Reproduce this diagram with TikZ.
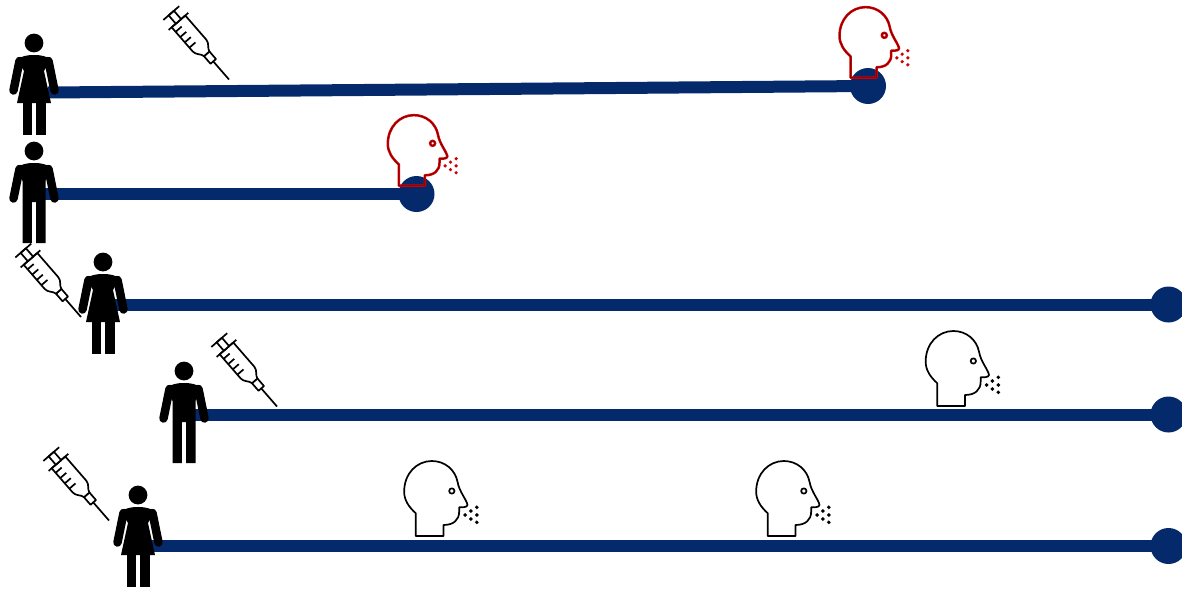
\documentclass[tikz,border=0pt]{standalone}
\definecolor{bluebar}{HTML}{052A6B}
\definecolor{redhead}{HTML}{D00000}
\definecolor{redcore}{HTML}{800000}
\def\hs{0.3333}
\tikzset{
  bar/.style={draw=bluebar,line width=12pt},
  endcap/.style={circle,fill=bluebar,draw=none,inner sep=0pt,minimum size=36pt},
  syr/.style={draw=black,line width=1.7pt,fill=white,line join=round},
  pics/woman/.style={code={
    \fill[black] (0,0) circle (9.4);
    \fill[black] (-17,16) .. controls (-12,13.5) and (-8,12) .. (0,12) .. controls (8,12) and (12,13.5) .. (17,16) -- (10,28) -- (17,60) -- (-17,60) -- (-10,28) -- cycle;
    \draw[black,line width=8.5pt,line cap=round] (-14.5,18) -- (-20.5,47.5);
    \draw[black,line width=8.5pt,line cap=round] (14.5,18) -- (20.5,47.5);
    \fill[black] (-11.5,59) rectangle (-2.2,92);
    \fill[black] (2.2,59) rectangle (11.5,92);
  }},
  pics/man/.style={code={
    \fill[black] (0,0) circle (9.4);
    \fill[black] (-17,16) .. controls (-12,13.5) and (-8,12) .. (0,12) .. controls (8,12) and (12,13.5) .. (17,16) -- (11.5,30) -- (11.5,92) -- (2.2,92) -- (2.2,51) -- (-2.2,51) -- (-2.2,92) -- (-11.5,92) -- (-11.5,30) -- cycle;
    \draw[black,line width=8.5pt,line cap=round] (-14.5,18) -- (-20.5,47.5);
    \draw[black,line width=8.5pt,line cap=round] (14.5,18) -- (20.5,47.5);
  }},
  pics/syringe/.style={code={
    \begin{scope}[rotate=-49]
      \draw[syr] (-24,0) -- (0,0);
      \draw[syr] (-34,-3.6) rectangle (-24,3.6);
      \draw[syr] (-77,-9) -- (-45,-9) .. controls (-40,-9) and (-38,-4) .. (-34,-3.6) -- (-34,3.6) .. controls (-38,4) and (-40,9) .. (-45,9) -- (-77,9) -- cycle;
      \draw[syr] (-77,-13) -- (-77,13);
      \draw[syr] (-88,-3.5) rectangle (-77,3.5);
      \draw[syr] (-88,-10.5) -- (-88,10.5);
      \draw[syr] (-50,9) -- (-50,1);
      \draw[syr] (-57,9) -- (-57,1);
      \draw[syr] (-64,9) -- (-64,1);
      \draw[syr] (-71,9) -- (-71,1);
    \end{scope}
  }},
  pics/headshape/.style={code={
    \begin{scope}[x=\hs pt,y=-\hs pt]
      \path[pic actions] (82,258) -- (82,190) .. controls (60,170) and (47,150) .. (47,125) .. controls (47,70) and (85,33) .. (130,33) .. controls (170,33) and (200,60) .. (207,95) .. controls (212,125) and (235,150) .. (237,165) .. controls (235,172) and (225,172) .. (212,172) -- (212,185) .. controls (212,210) and (195,225) .. (165,225) -- (165,258) -- cycle;
      \path[pic actions] (190,123) circle (8);
    \end{scope}
  }},
  pics/drops/.style={code={
    \begin{scope}[x=\hs pt,y=-\hs pt]
      \foreach \a/\b in {230/195,247/183,265/172,265/195,247/207,265/217}
        \fill[pic actions] (\a,\b) circle (5.8);
    \end{scope}
  }},
  pics/blackhead/.style={code={
    \def\hs{0.3333}
    \pic[draw=black,line width=1.7pt,fill=white,line join=round] {headshape};
    \pic[fill=black] {drops};
  }},
  pics/redhead/.style={code={
    \def\hs{0.3133}
    \pic[draw=redhead,line width=2.5pt,line join=round] {headshape};
    \pic[draw=redcore,line width=0.7pt,line join=round] {headshape};
    \pic[fill=redhead] {drops};
  }},
}
\begin{document}
\begin{tikzpicture}[x=1pt,y=-1pt]
\useasboundingbox (0,0) rectangle (1182,589);
\coordinate (s1) at (48,92.5);
\coordinate (s2) at (45,194);
\coordinate (s3) at (115,304.5);
\coordinate (s4) at (195,414.5);
\coordinate (s5) at (150,546);
\node[endcap] (e1) at (868,86) {};
\node[endcap] (e2) at (416.5,194) {};
\node[endcap] (e3) at (1168.5,304.5) {};
\node[endcap] (e4) at (1168.5,414.5) {};
\node[endcap] (e5) at (1168.5,546) {};
\draw[bar] (s1) -- (e1.center);
\draw[bar] (s2) -- (e2.center);
\draw[bar] (s3) -- (e3.center);
\draw[bar] (s4) -- (e4.center);
\draw[bar] (s5) -- (e5.center);
\pic at (34,43) {woman};
\pic at (34,151) {man};
\pic at (184,371) {man};
\pic at (138,495) {woman};
\pic at (229,79.5) {syringe};
\pic at (81,317) {syringe};
\pic at (277,406.5) {syringe};
\pic at (109,520.5) {syringe};
\pic at (103,262) {woman};
\pic at (824.8,-3.2) {redhead};
\pic at (373.1,104.8) {redhead};
\pic at (910,320) {blackhead};
\pic at (388.5,450) {blackhead};
\pic at (740.5,450) {blackhead};
\end{tikzpicture}
\end{document}
